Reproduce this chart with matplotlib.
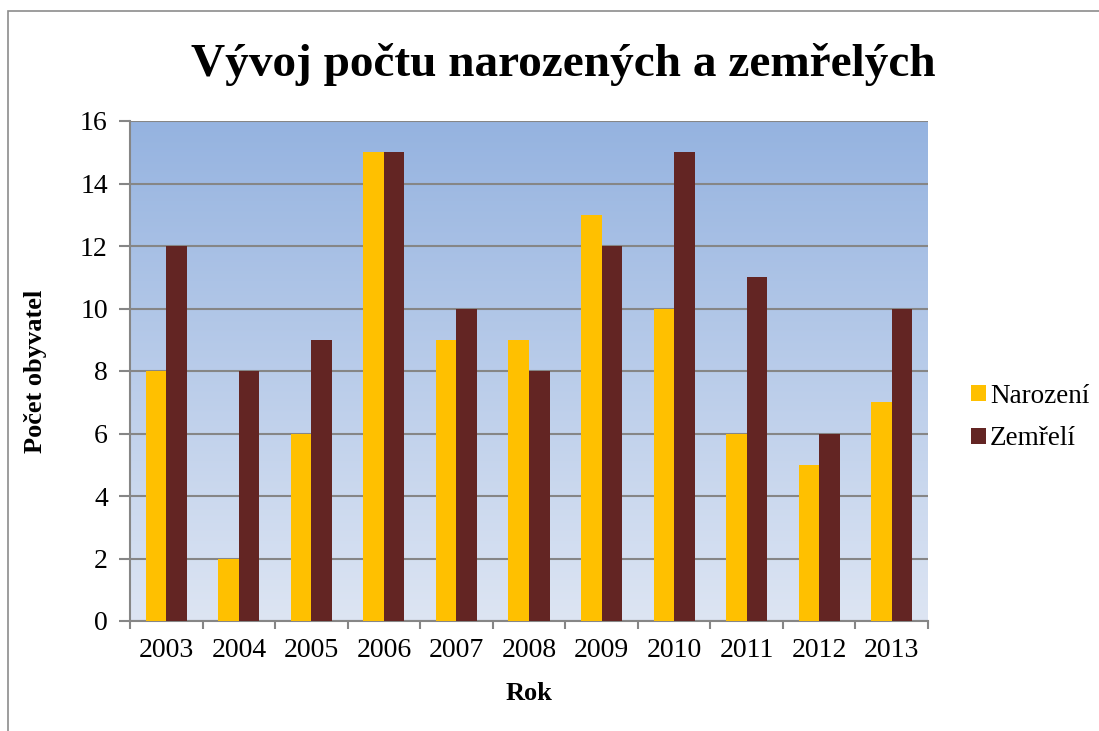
"""Births and deaths per year, Excel-style bar chart"""

import numpy as np
import matplotlib
matplotlib.use('Agg')
import matplotlib.pyplot as plt
from matplotlib.colors import LinearSegmentedColormap
from matplotlib.patches import Rectangle

years = ['2003', '2004', '2005', '2006', '2007', '2008', '2009', '2010', '2011', '2012', '2013']
narozeni = [8, 2, 6, 15, 9, 9, 13, 10, 6, 5, 7]
zemreli = [12, 8, 9, 15, 10, 8, 12, 15, 11, 6, 10]

plt.rcParams['font.family'] = ['Liberation Serif', 'DejaVu Serif']

fig = plt.figure(figsize=(10.99, 7.31), dpi=100)
ax = fig.add_axes([130 / 1099, 1 - 621 / 731, 798 / 1099, 500 / 731])

# outer chart border (only left and top visible in the reference)
fig.patches.append(Rectangle((8 / 1099, -0.1), 1.2, 1 - 11 / 731 + 0.1,
                             transform=fig.transFigure, fill=False,
                             edgecolor='#8c8c8c', linewidth=1.2))

# gradient background of the plot area
grad_cmap = LinearSegmentedColormap.from_list('bg', ['#dde5f3', '#95b3e0'])
grad = np.linspace(0, 1, 256).reshape(-1, 1)
ax.imshow(grad, cmap=grad_cmap, aspect='auto', origin='lower',
          extent=[-0.5, len(years) - 0.5, 0, 16], zorder=0)

x = np.arange(len(years))
w = 0.283
ax.bar(x - w / 2, narozeni, w, color='#ffc000', label='Narození', zorder=3)
ax.bar(x + w / 2, zemreli, w, color='#632523', label='Zemřelí', zorder=3)

ax.set_xlim(-0.5, len(years) - 0.5)
ax.set_ylim(0, 16)
ax.set_yticks(range(0, 17, 2))
ax.yaxis.grid(True, color='#868686', linewidth=1.5, zorder=1)
ax.set_axisbelow(True)

ax.set_xticks(np.arange(-0.5, len(years), 1))
ax.set_xticklabels([])
ax.set_xticks(x, minor=True)
ax.set_xticklabels(years, minor=True)
ax.tick_params(axis='x', which='minor', length=0, pad=12, labelsize=20)
ax.tick_params(axis='x', which='major', length=6, color='#868686', width=1.5, direction='out')
ax.tick_params(axis='y', length=8, color='#868686', width=1.5, labelsize=20, pad=8)

for s in ['top', 'right']:
    ax.spines[s].set_visible(False)
for s in ['left', 'bottom']:
    ax.spines[s].set_color('#868686')
    ax.spines[s].set_linewidth(1.5)

ax.set_xlabel('Rok', fontsize=19, fontweight='bold', labelpad=14)
ax.set_ylabel('Počet obyvatel', fontsize=19, fontweight='bold', labelpad=24)

fig.text(0.513, 1 - 64 / 731, 'Vývoj počtu narozených a zemřelých', ha='center', va='center',
         fontsize=34, fontweight='bold')

ax.legend(loc='center left', bbox_to_anchor=(1.037, 0.407), frameon=False, fontsize=19.5,
          handlelength=0.55, handleheight=0.55, handletextpad=0.15, labelspacing=0.65,
          borderpad=0)

fig.savefig('out.png', dpi=100)
